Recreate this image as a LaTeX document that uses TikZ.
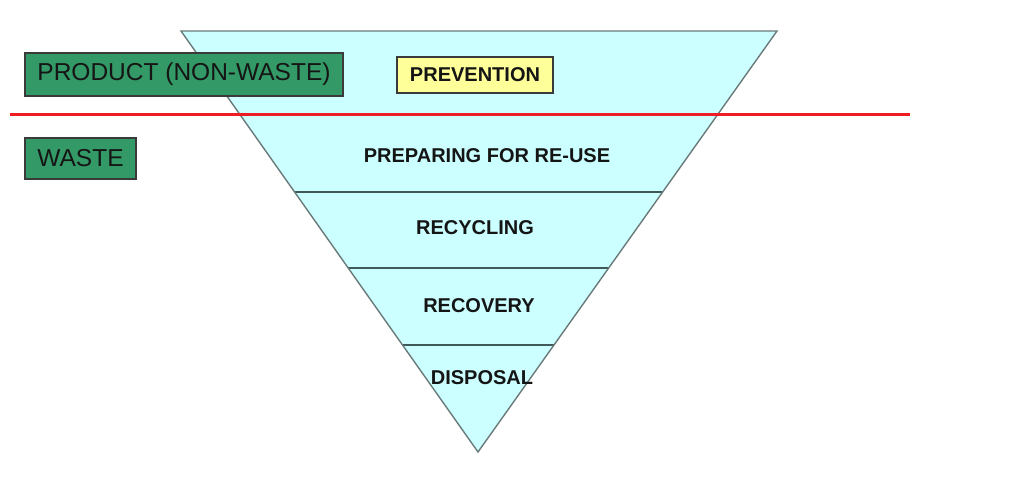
\documentclass[tikz,border=0pt]{standalone}
\usepackage{fontspec}
\setmainfont{Liberation Sans}
\definecolor{pyrfill}{HTML}{CCFFFF}
\definecolor{pyredge}{HTML}{6A7A7A}
\definecolor{bandline}{HTML}{405858}
\definecolor{wgreen}{HTML}{339966}
\definecolor{pyellow}{HTML}{FFFF99}
\definecolor{redline}{HTML}{EE1C24}
\definecolor{boxedge}{HTML}{3A3A3A}
\definecolor{txt}{HTML}{151515}
\tikzset{
  greenbox/.style={draw=boxedge, line width=1.3pt, fill=wgreen, inner sep=0pt, text=txt,
    font=\fontsize{24.5}{28}\selectfont},
  yellowbox/.style={draw=boxedge, line width=1.1pt, fill=pyellow, inner sep=0pt, text=txt,
    font=\fontsize{20}{24}\selectfont\bfseries},
  bandlabel/.style={inner sep=0pt, text=txt, font=\fontsize{20}{24}\selectfont\bfseries},
  bandrule/.style={draw=bandline, line width=1.4pt},
}
\begin{document}
\begin{tikzpicture}[x=1pt,y=-1pt]
\useasboundingbox (0,0) rectangle (1024,476);
% triangle
\coordinate (tl) at (181,31);
\coordinate (tr) at (777,31);
\coordinate (apex) at (478,452);
\fill[pyrfill] (tl) -- (tr) -- (apex) -- cycle;
% band rules
\coordinate (b1l) at (294.6,192); \coordinate (b1r) at (662.7,192);
\coordinate (b2l) at (348.2,268); \coordinate (b2r) at (608.7,268);
\coordinate (b3l) at (402.5,345); \coordinate (b3r) at (554.0,345);
\draw[bandrule] (b1l) -- (b1r);
\draw[bandrule] (b2l) -- (b2r);
\draw[bandrule] (b3l) -- (b3r);
\draw[draw=pyredge, line width=1.4pt, line join=miter] (tl) -- (tr) -- (apex) -- cycle;
% boxes
\node[greenbox, minimum width=318pt, minimum height=43pt] (product) at (184,74.5) {PRODUCT (NON-WASTE)};
\node[greenbox, minimum width=111pt, minimum height=41pt] (waste) at (80.5,158.5) {WASTE};
\node[yellowbox, minimum width=156pt, minimum height=36pt] (prevention) at (475,75) {PREVENTION};
% red line
\coordinate (rl) at (10,115);
\coordinate (rr) at (910,115);
\draw[redline, line width=3pt] (rl) -- (rr);
% band labels
\node[bandlabel] (reuse) at (487,156) {PREPARING FOR RE-USE};
\node[bandlabel] (recycling) at (475,228) {RECYCLING};
\node[bandlabel] (recovery) at (479,306) {RECOVERY};
\node[bandlabel] (disposal) at (482,378) {DISPOSAL};
\end{tikzpicture}
\end{document}
